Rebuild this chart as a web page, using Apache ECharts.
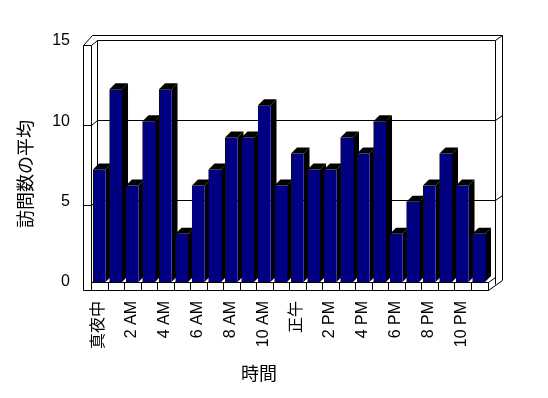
<!DOCTYPE html>
<html>
<head>
<meta charset="utf-8">
<script src="https://cdn.jsdelivr.net/npm/echarts@6/dist/echarts.min.js"></script>
<style>
  html, body { margin: 0; padding: 0; background: #fff; }
  #chart { width: 548px; height: 398px; }
</style>
</head>
<body>
<div id="chart"></div>
<script>
// 時間ごとの訪問数の平均
const hours = [
  '真夜中', '1 AM', '2 AM', '3 AM', '4 AM', '5 AM', '6 AM', '7 AM', '8 AM', '9 AM', '10 AM', '11 AM',
  '正午', '1 PM', '2 PM', '3 PM', '4 PM', '5 PM', '6 PM', '7 PM', '8 PM', '9 PM', '10 PM', '11 PM'
]
const visits = [7, 12, 6, 10, 12, 3, 6, 7, 9, 9, 11, 6, 8, 7, 7, 9, 8, 10, 3, 5, 6, 8, 6, 3]
const yTicks = [0, 5, 10, 15]

const fontFamily = "'Liberation Sans', 'Noto Sans CJK JP', sans-serif"
const depth = 6

const chart = echarts.init(document.getElementById('chart'))

// 3D風の棒（前面・上面・側面）
function renderBar(params, api) {
  const v = api.value(1)
  const top = api.coord([api.value(0), v])
  const base = api.coord([api.value(0), 0])
  const w = api.size([1, 0])[0] * 0.76
  const xl = top[0] - w / 2
  const xr = top[0] + w / 2
  const yt = top[1]
  const yb = base[1]
  const z = params.dataIndex * 3
  return {
    type: 'group',
    children: [
      {
        type: 'polygon',
        z2: z,
        shape: { points: [[xr, yt], [xr + depth, yt - depth], [xr + depth, yb - depth], [xr, yb]] },
        style: { fill: '#000' },
      },
      {
        type: 'polygon',
        z2: z + 1,
        shape: { points: [[xl, yt], [xl + depth, yt - depth], [xr + depth, yt - depth], [xr, yt]] },
        style: { fill: '#000' },
      },
      {
        type: 'rect',
        z2: z + 2,
        shape: { x: xl, y: yt, width: w, height: yb - yt },
        style: { fill: '#000080' },
      },
    ],
  }
}

const option = {
  backgroundColor: '#fff',
  animation: false,
  grid: { left: 91, right: 61, top: 41, bottom: 116 },
  xAxis: {
    type: 'category',
    data: hours,
    axisLine: { show: false },
    axisTick: { show: false },
    axisLabel: { show: false },
  },
  yAxis: {
    type: 'value',
    min: yTicks[0],
    max: yTicks[yTicks.length - 1],
    interval: 5,
    axisLine: { show: false },
    axisTick: { show: false },
    splitLine: { show: false },
    axisLabel: { margin: 21, fontSize: 16, fontFamily: fontFamily, color: '#000', padding: [3, 0, 0, 0] },
  },
  series: [
    {
      type: 'custom',
      renderItem: renderBar,
      data: visits.map((v, i) => [i, v]),
      z: 2,
    },
  ],
}

chart.setOption(option)

// 壁・床の枠線（軸の座標から計算）
const px = (x, y) => [Math.round(x) + 0.5, Math.round(y) + 0.5]
const xPx = (i) => chart.convertToPixel({ xAxisIndex: 0 }, i)
const band = xPx(1) - xPx(0)
const L = xPx(0) - band / 2
const R = xPx(hours.length - 1) + band / 2
const yT = chart.convertToPixel({ yAxisIndex: 0 }, yTicks[yTicks.length - 1])
const yB = chart.convertToPixel({ yAxisIndex: 0 }, yTicks[0])

function line(points) {
  return {
    type: 'polyline',
    silent: true,
    z: 0,
    shape: { points: points.map((p) => px(p[0], p[1])) },
    style: { stroke: '#000', lineWidth: 1, fill: null },
  }
}

const frame = [
  line([[L - 8, yT + 4], [L - 8, yB + 8], [R + 1, yB + 8], [R + 15, yB - 2], [R + 15, yT - 6], [L + 1, yT - 6], [L - 8, yT + 4], [L, yT + 4]]),
  line([[L, yT + 4], [L, yB + 8]]),
  line([[L, yT + 4], [L + 6, yT - 1], [R + 8, yT - 1], [R + 15, yT - 6]]),
  line([[L + 6, yT - 1], [L + 6, yB - 5]]),
  line([[R + 8, yT - 1], [R + 8, yB + 2]]),
  line([[L, yB], [R + 1, yB], [R + 8, yB - 5]]),
  line([[R + 1, yB], [R + 1, yB + 8]]),
]
yTicks.slice(1, -1).forEach((t) => {
  const y = chart.convertToPixel({ yAxisIndex: 0 }, t)
  frame.push(line([[L - 8, y + 3.5], [L, y + 3.5], [L + 6, y - 1.5], [R + 8, y - 1.5], [R + 15, y - 6.5]]))
})
for (let k = 1; k < hours.length; k++) {
  frame.push(line([[L + k * band, yB], [L + k * band, yB + 8]]))
}

// 横軸ラベル（2時間おき、縦書き）
hours.forEach((h, i) => {
  if (i % 2 !== 0) return
  frame.push({
    type: 'text',
    x: Math.round(xPx(i)),
    y: yB + 19,
    rotation: Math.PI / 2,
    z: 5,
    silent: true,
    style: { text: h, font: '16px ' + fontFamily, fill: '#000', align: 'right', verticalAlign: 'middle' },
  })
})

// 軸タイトル
frame.push({
  type: 'text',
  x: 27,
  y: 174,
  rotation: Math.PI / 2,
  silent: true,
  style: { text: '訪問数の平均', font: '18px ' + fontFamily, fill: '#000', align: 'center', verticalAlign: 'middle' },
})
frame.push({
  type: 'text',
  x: 259,
  y: 375,
  silent: true,
  style: { text: '時間', font: '18px ' + fontFamily, fill: '#000', align: 'center', verticalAlign: 'middle' },
})

chart.setOption({ graphic: { elements: frame } })
</script>
</body>
</html>
